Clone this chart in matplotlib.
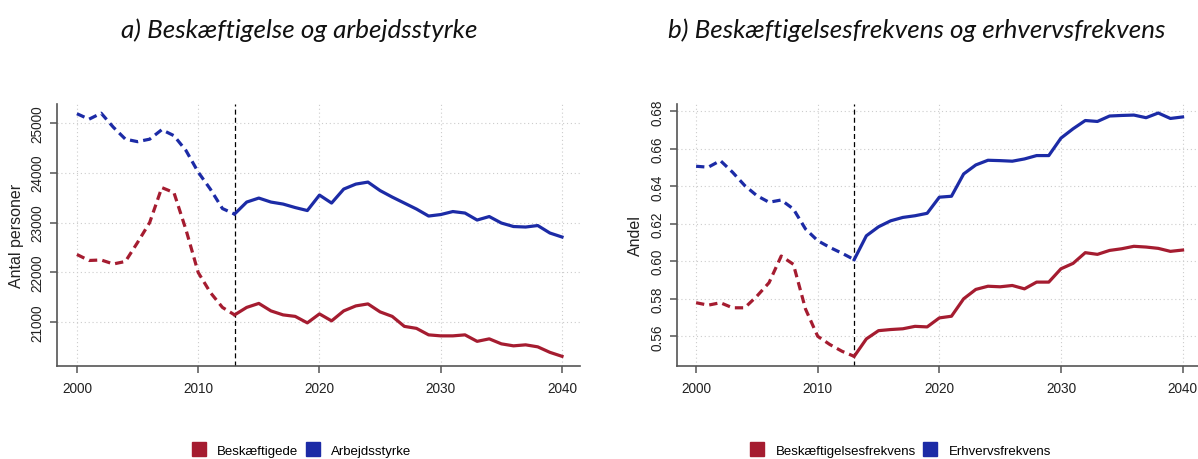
import matplotlib
matplotlib.use('Agg')
import matplotlib.pyplot as plt
from matplotlib.lines import Line2D

years = list(range(2000, 2041))
split_year = 2013

# a) Beskæftigelse og arbejdsstyrke
beskaeftigede = [22360, 22240, 22250, 22170, 22220, 22600, 23000, 23700, 23600, 22850,
                 22000, 21600, 21300, 21150, 21300, 21380, 21230, 21150, 21120, 20990,
                 21170, 21030, 21230, 21330, 21370, 21210, 21120, 20920, 20880, 20750,
                 20730, 20730, 20750, 20620, 20670, 20570, 20530, 20550, 20510, 20400,
                 20320]
arbejdsstyrke = [25180, 25070, 25190, 24910, 24670, 24620, 24670, 24860, 24740, 24440,
                 24010, 23670, 23280, 23170, 23410, 23490, 23410, 23370, 23300, 23240,
                 23550, 23390, 23670, 23770, 23810, 23640, 23510, 23390, 23270, 23130,
                 23160, 23220, 23190, 23050, 23120, 22990, 22920, 22910, 22940, 22790,
                 22710]

# b) Beskæftigelsesfrekvens og erhvervsfrekvens
besk_frekvens = [0.5779, 0.5766, 0.5779, 0.5752, 0.5752, 0.5814, 0.5886, 0.6028, 0.5984, 0.5745,
                 0.5600, 0.5556, 0.5520, 0.5493, 0.5586, 0.5630, 0.5636, 0.5640, 0.5653, 0.5650,
                 0.5698, 0.5707, 0.5800, 0.5850, 0.5867, 0.5864, 0.5871, 0.5853, 0.5889, 0.5889,
                 0.5960, 0.5989, 0.6046, 0.6037, 0.6058, 0.6067, 0.6080, 0.6076, 0.6069, 0.6053,
                 0.6060]
erhv_frekvens = [0.6507, 0.6502, 0.6537, 0.6475, 0.6404, 0.6350, 0.6315, 0.6327, 0.6279, 0.6172,
                 0.6110, 0.6074, 0.6043, 0.6009, 0.6136, 0.6184, 0.6216, 0.6234, 0.6243, 0.6256,
                 0.6342, 0.6347, 0.6466, 0.6514, 0.6539, 0.6537, 0.6534, 0.6546, 0.6564, 0.6564,
                 0.6657, 0.6707, 0.6751, 0.6746, 0.6775, 0.6778, 0.6780, 0.6766, 0.6791, 0.6762,
                 0.6770]

x_ticks = [2000, 2010, 2020, 2030, 2040]
left_yticks = [21000, 22000, 23000, 24000, 25000]
right_yticks = [0.56, 0.58, 0.60, 0.62, 0.64, 0.66, 0.68]

red = '#A51C30'
blue = '#1C2BA6'
axcol = '#555555'

plt.rcParams['font.family'] = ['Liberation Sans', 'DejaVu Sans']

fig = plt.figure(figsize=(11.98, 4.6), dpi=100)
ax1 = fig.add_axes([0.0478, 0.2028, 0.4363, 0.5689])
ax2 = fig.add_axes([0.5649, 0.2028, 0.4351, 0.5689])


def draw_panel(ax, s1, s2, yticks, ylim, xlim, fmt, ylabel):
    i = years.index(split_year)
    dash = (0, (2.6, 1.6))
    for s, c in [(s1, red), (s2, blue)]:
        ax.plot(years[:i + 1], s[:i + 1], color=c, lw=2.3, linestyle=dash, zorder=3)
        ax.plot(years[i:], s[i:], color=c, lw=2.3, zorder=3)
    ax.axvline(split_year, color='black', lw=0.9, linestyle=(0, (4, 2.5)), zorder=2)
    ax.set_xlim(*xlim)
    ax.set_ylim(*ylim)
    ax.set_xticks(x_ticks)
    ax.set_yticks(yticks)
    ax.set_yticklabels([fmt(v) for v in yticks], rotation=90, va='center')
    ax.grid(True, color='#cccccc', linestyle=(0, (1, 2.5)), lw=0.8)
    ax.set_axisbelow(True)
    for side in ['top', 'right']:
        ax.spines[side].set_visible(False)
    for side in ['left', 'bottom']:
        ax.spines[side].set_color(axcol)
        ax.spines[side].set_linewidth(1.2)
    ax.tick_params(colors=axcol, labelcolor='#222222', labelsize=9.8, length=5, width=1.1)
    ax.tick_params(axis='x', pad=6)
    ax.tick_params(axis='y', pad=4)
    ax.set_ylabel(ylabel, fontsize=11.5, color='#222222', labelpad=5)


draw_panel(ax1, beskaeftigede, arbejdsstyrke, left_yticks, (20132, 25374),
           (1998.38, 2041.48), lambda v: str(v), 'Antal personer')
draw_panel(ax2, besk_frekvens, erhv_frekvens, right_yticks, (0.5443, 0.6839),
           (1998.41, 2041.27), lambda v: '%.2f' % v, 'Andel')

fig.text(0.250, 0.935, 'a) Beskæftigelse og arbejdsstyrke', ha='center', va='center',
         fontsize=18.7, style='italic', family=['Lato', 'DejaVu Sans'], color='#111111')
fig.text(0.765, 0.935, 'b) Beskæftigelsesfrekvens og erhvervsfrekvens', ha='center', va='center',
         fontsize=18.7, style='italic', family=['Lato', 'DejaVu Sans'], color='#111111')


def sq(c):
    return Line2D([], [], color=c, marker='s', linestyle='none', markersize=10)


fig.legend([sq(red), sq(blue)], ['Beskæftigede', 'Arbejdsstyrke'], loc='center',
           bbox_to_anchor=(0.252, 0.018), ncol=2, frameon=False, fontsize=9.5,
           handlelength=1, handletextpad=0.9, columnspacing=0.6)
fig.legend([sq(red), sq(blue)], ['Beskæftigelsesfrekvens', 'Erhvervsfrekvens'], loc='center',
           bbox_to_anchor=(0.752, 0.018), ncol=2, frameon=False, fontsize=9.5,
           handlelength=1, handletextpad=0.9, columnspacing=0.6)

fig.savefig('out.png', dpi=100)
